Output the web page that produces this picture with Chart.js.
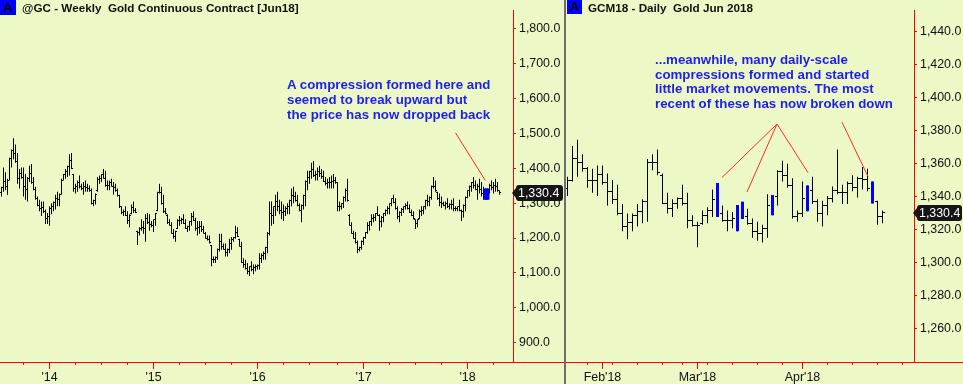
<!DOCTYPE html>
<html>
<head>
<meta charset="utf-8">
<script src="https://cdn.jsdelivr.net/npm/chart.js@4.4.1/dist/chart.umd.min.js"></script>
<style>
  html, body { margin: 0; padding: 0; background: #ecf8c5; }
  #wrap { position: relative; width: 963px; height: 384px; overflow: hidden; background: #ecf8c5;
          font-family: "Liberation Sans", Arial, sans-serif; }
  canvas { position: absolute; top: 0; }
  #cw { left: 0; }
  #cd { left: 566px; }
  #sep { position: absolute; left: 564px; top: 0; width: 2px; height: 384px; background: #6e6e6e; }
  .tag { position: absolute; top: 0; height: 15px; background: #0000ff; color: #000; font-weight: bold;
         font-size: 13px; line-height: 15px; text-align: center; }
  .title { position: absolute; top: 0; font-weight: bold; font-size: 11.7px; line-height: 15px; color: #111;
           white-space: pre; }
  .note { position: absolute; font-weight: bold; font-size: 13.3px; color: #1e1ef0; white-space: pre; }
</style>
</head>
<body>
<div id="wrap">
  <canvas id="cw" width="565" height="384"></canvas>
  <canvas id="cd" width="397" height="384"></canvas>
  <div id="sep"></div>
  <div class="tag" style="left:0;width:16px;">A</div>
  <div class="title" style="left:22px;">@GC - Weekly  Gold Continuous Contract [Jun18]</div>
  <div class="tag" style="left:567px;width:15px;height:14px;line-height:14px;">A</div>
  <div class="title" style="left:588px;">GCM18 - Daily  Gold Jun 2018</div>
  <div class="note" style="left:287px;top:77px;line-height:15px;">A compression formed here and
seemed to break upward but
the price has now dropped back</div>
  <div class="note" style="left:655px;top:53px;line-height:14.7px;">...meanwhile, many daily-scale
compressions formed and started
little market movements. The most
recent of these has now broken down</div>
</div>
<script>
// ---------------- Weekly gold continuous contract (one bar per week, Jul 2013 - Apr 2018) -------------
const weeklyHigh = [
1347,1402,1389,1370,1430,1454,1486,1468,1444,1398,
1402,1402,1384,1375,1407,1412,1375,1347,1319,1310,
1305,1305,1282,1272,1291,1300,1305,1324,1333,1328,
1370,1384,1398,1407,1440,1444,1384,1356,1365,1379,
1356,1361,1365,1356,1351,1342,1310,1328,1375,1379,
1384,1398,1393,1365,1365,1370,1361,1356,1342,1324,
1291,1282,1291,1277,1268,1296,1305,1286,1221,1231,
1254,1249,1268,1272,1268,1249,1254,1272,1333,1356,
1347,1324,1286,1268,1254,1245,1226,1221,1254,1263,
1258,1268,1254,1235,1249,1272,1277,1258,1249,1249,
1249,1235,1217,1207,1207,1180,1147,1147,1170,1212,
1212,1184,1184,1170,1198,1203,1203,1235,1231,1198,
1189,1142,1138,1128,1119,1133,1124,1124,1124,1156,
1156,1161,1175,1217,1305,1305,1291,1324,1333,1310,
1305,1296,1291,1300,1310,1342,1347,1333,1324,1300,
1296,1324,1365,1393,1393,1416,1421,1393,1402,1407,
1398,1393,1375,1370,1375,1379,1384,1375,1361,1305,
1300,1319,1342,1370,1268,1245,1221,1217,1193,1175,
1193,1203,1217,1245,1249,1268,1268,1272,1291,1268,
1263,1272,1282,1291,1300,1314,1324,1314,1291,1277,
1286,1291,1300,1305,1296,1282,1277,1254,1254,1282,
1291,1291,1310,1324,1319,1351,1375,1365,1333,1328,
1319,1305,1305,1314,1300,1310,1314,1291,1291,1310,
1282,1296,1319,1337,1351,1361,1375,1365,1356,1370,
1361,1347,1342,1342,1356,1365,1361,1370,1361,1337];
const weeklyLow = [
1319,1333,1337,1324,1365,1402,1426,1416,1356,1342,
1370,1319,1310,1305,1361,1356,1337,1310,1291,1277,
1263,1272,1240,1240,1235,1268,1277,1282,1291,1291,
1324,1365,1370,1375,1379,1398,1333,1328,1333,1342,
1337,1324,1333,1333,1333,1296,1291,1296,1333,1356,
1361,1370,1347,1337,1337,1347,1324,1333,1319,1286,
1268,1263,1263,1240,1231,1268,1272,1272,1180,1207,
1221,1212,1189,1240,1221,1231,1217,1235,1277,1328,
1296,1272,1268,1240,1235,1212,1198,1189,1226,1235,
1240,1240,1226,1217,1221,1235,1249,1221,1207,1212,
1217,1212,1198,1193,1184,1119,1128,1128,1138,1161,
1166,1166,1147,1147,1156,1166,1189,1198,1203,1175,
1128,1115,1110,1096,1091,1105,1096,1105,1110,1110,
1128,1138,1138,1156,1207,1235,1240,1263,1277,1268,
1254,1249,1263,1268,1268,1291,1300,1305,1291,1277,
1245,1282,1291,1337,1356,1370,1375,1365,1365,1375,
1370,1361,1351,1342,1342,1342,1342,1356,1277,1277,
1282,1286,1305,1305,1235,1212,1198,1184,1156,1161,
1166,1180,1198,1212,1221,1235,1245,1249,1263,1221,
1231,1245,1263,1268,1268,1291,1300,1282,1254,1245,
1263,1272,1282,1282,1272,1263,1254,1226,1231,1254,
1263,1268,1282,1291,1291,1310,1342,1333,1310,1291,
1286,1291,1282,1286,1282,1282,1277,1277,1277,1277,
1249,1259,1277,1314,1319,1333,1342,1337,1310,1328,
1319,1310,1310,1310,1328,1337,1328,1333,1333,1324];
const weeklyOpen = [
1330,1344,1363,1347,1366,1428,1450,1442,1420,1370,
1386,1374,1347,1340,1372,1384,1358,1340,1312,1294,
1284,1288,1275,1256,1263,1284,1291,1303,1312,1310,
1325,1366,1382,1391,1404,1421,1382,1342,1349,1360,
1347,1342,1349,1344,1342,1335,1300,1308,1335,1367,
1372,1382,1372,1351,1351,1358,1349,1344,1335,1321,
1289,1272,1277,1266,1250,1270,1288,1279,1220,1215,
1228,1231,1228,1256,1245,1240,1236,1252,1280,1330,
1331,1298,1277,1266,1245,1237,1214,1205,1228,1249,
1249,1254,1242,1228,1233,1248,1263,1251,1228,1230,
1233,1224,1214,1200,1196,1178,1138,1137,1145,1168,
1189,1175,1168,1158,1168,1184,1196,1201,1217,1196,
1177,1130,1124,1112,1105,1117,1110,1114,1117,1122,
1142,1149,1156,1173,1214,1270,1265,1289,1305,1289,
1280,1272,1277,1284,1289,1308,1323,1319,1308,1293,
1279,1294,1322,1363,1374,1390,1398,1379,1383,1391,
1384,1377,1363,1356,1358,1360,1363,1365,1358,1291,
1291,1298,1317,1337,1266,1237,1214,1200,1186,1168,
1173,1191,1201,1215,1235,1247,1256,1260,1270,1265,
1247,1258,1270,1279,1284,1298,1312,1302,1284,1261,
1274,1281,1289,1293,1284,1274,1265,1252,1242,1256,
1277,1279,1289,1307,1305,1317,1349,1349,1331,1312,
1302,1298,1293,1300,1291,1296,1295,1284,1284,1289,
1279,1277,1294,1317,1335,1347,1358,1351,1339,1349,
1340,1328,1326,1326,1340,1351,1344,1351,1347,1335];
const weeklyClose = [
1344,1363,1347,1366,1428,1450,1442,1420,1370,1386,
1374,1347,1340,1372,1384,1358,1340,1312,1294,1284,
1288,1275,1256,1263,1284,1291,1303,1312,1310,1325,
1366,1382,1391,1404,1421,1400,1342,1349,1360,1347,
1342,1349,1344,1342,1335,1300,1308,1325,1367,1372,
1382,1372,1351,1351,1358,1349,1344,1335,1321,1289,
1272,1277,1266,1250,1265,1288,1279,1274,1215,1228,
1231,1228,1256,1245,1240,1236,1252,1270,1330,1331,
1298,1277,1270,1245,1237,1214,1205,1218,1249,1249,
1254,1242,1228,1233,1248,1263,1251,1228,1230,1233,
1224,1214,1200,1196,1186,1138,1137,1145,1168,1189,
1175,1168,1158,1168,1184,1196,1201,1217,1205,1177,
1130,1124,1112,1105,1117,1110,1114,1117,1122,1142,
1149,1156,1173,1214,1270,1265,1289,1305,1289,1280,
1272,1277,1284,1289,1308,1323,1319,1308,1293,1279,
1294,1322,1363,1374,1390,1398,1379,1383,1391,1384,
1377,1363,1356,1358,1360,1363,1365,1358,1291,1291,
1298,1317,1337,1307,1237,1214,1200,1186,1168,1173,
1191,1201,1215,1235,1247,1256,1260,1270,1265,1247,
1258,1270,1279,1284,1298,1312,1302,1284,1261,1274,
1281,1289,1293,1284,1274,1265,1256,1242,1252,1277,
1279,1289,1307,1305,1317,1349,1349,1335,1312,1302,
1298,1293,1300,1291,1296,1295,1284,1284,1289,1279,
1277,1294,1317,1335,1347,1358,1351,1339,1349,1340,
1328,1326,1326,1340,1351,1344,1351,1347,1335,1330.4];
const weeklyCompression = [242, 243];            // bar indices highlighted blue
const weeklyYearTicks = [24, 76, 128, 181, 233]; // first weekly bar of each year
const weeklyYearLabels = ["'14", "'15", "'16", "'17", "'18"];
const weeklyQuarterTicks = [11, 37, 50, 63, 89, 102, 115, 141, 154, 168, 194, 207, 220, 246];
const weeklyPriceTicks = [900, 1000, 1100, 1200, 1300, 1400, 1500, 1600, 1700, 1800];
const weeklyArrows = [[227, 1501.8, 241.9, 1365.3]];   // [fromBar, fromPrice, toBar, toPrice]

// ---------------- Daily Gold Jun 2018 (Jan 23 - Apr 24, 2018) -------------
const dailyHigh = [
1352.3,1370.8,1374.7,1365.9,1358.1,1357.1,1359.1,1359.1,1354.2,1350.3,
1347.4,1335.7,1329.9,1329.9,1335.7,1338.6,1363.0,1365.9,1368.8,1354.2,
1342.5,1338.6,1339.6,1347.4,1342.5,1328.9,1325.0,1331.8,1333.8,1344.5,
1348.4,1334.8,1331.8,1330.9,1335.1,1337.1,1332.8,1327.0,1325.0,1323.1,
1341.6,1341.2,1356.2,1362.0,1360.1,1351.3,1331.8,1349.4,1347.0,1352.3,
1338.6,1337.7,1340.6,1346.4,1368.8,1347.4,1349.4,1353.2,1352.3,1358.1,
1357.1,1349.4,1337.7,1331.8];
const dailyLow = [
1340.6,1349.4,1352.3,1355.2,1345.5,1342.5,1340.6,1347.4,1334.8,1335.7,
1328.9,1319.2,1314.3,1319.2,1322.1,1324.1,1325.0,1356.2,1353.2,1335.7,
1329.9,1327.9,1332.8,1334.8,1321.1,1322.1,1309.5,1323.1,1324.1,1327.9,
1327.9,1325.0,1319.2,1321.1,1319.2,1326.6,1323.1,1315.3,1313.4,1312.4,
1315.3,1328.9,1334.8,1349.4,1345.5,1327.0,1325.0,1327.9,1331.3,1335.7,
1325.0,1322.1,1328.9,1336.7,1341.6,1335.7,1335.7,1343.5,1339.6,1344.5,
1343.5,1336.1,1323.1,1324.1];
const dailyOpen = [
1345,1350,1363.5,1360.6,1357,1349.8,1349.9,1353.3,1349,1343,
1338.2,1330,1322,1324.6,1328.9,1331.4,1337,1361,1361,1353,
1336.2,1333.3,1336.2,1339,1336,1325.5,1323,1324,1329,1332,
1338.2,1329.9,1325.5,1326,1327.2,1331.9,1328,1324,1319.2,1317.8,
1321,1335,1340,1355.7,1352.8,1347,1328.4,1330,1339.2,1344,
1337,1329.9,1334.8,1339,1344,1342.5,1342.6,1348.4,1346,1351.3,
1350.3,1345,1337,1328];
const dailyClose = [
1350,1363.5,1360.6,1357,1349.8,1349.9,1353.3,1349,1343,1338.2,
1330,1322,1324.6,1328.9,1331.4,1337,1361,1361,1355,1336.2,
1333.3,1336.2,1339,1336,1325.5,1323,1323,1329,1332,1338.2,
1329.9,1325.5,1326,1327.2,1331.9,1328,1324,1319.2,1317.8,1321,
1335,1340,1355.7,1352.8,1347,1328.4,1330,1339.2,1344,1337,
1329.9,1334.8,1339,1344,1342.5,1342.6,1348.4,1346,1351.3,1350.3,
1345,1337,1328,1330.4];
const dailyCompression = [30, 34, 35, 41, 48, 61];
const dailyMonthTicks = [7, 26, 47];
const dailyMonthLabels = ["Feb'18", "Mar'18", "Apr'18"];
const dailyWeekTicks = [4, 9, 14, 19, 23, 28, 33, 38, 43, 52, 57, 62, 67];
const dailyPriceTicks = [1260, 1280, 1300, 1320, 1340, 1360, 1380, 1400, 1420, 1440];
const dailyArrows = [
  [41.9, 1384.2, 30.9, 1351.8],
  [41.9, 1384.2, 35.9, 1343.0],
  [41.9, 1384.2, 48.1, 1354.7],
  [54.9, 1385.3, 60.1, 1352.4]];

// ---------------- drawing -------------
const RED = '#ff0000';
const FONT = '"Liberation Sans", Arial, sans-serif';

function fmtPrice(v) {
  const s = Number(v).toFixed(1);
  const parts = s.split('.');
  return parts[0].replace(/\B(?=(\d{3})+(?!\d))/g, ',') + '.' + parts[1];
}

function buildChart(canvas, d) {
  const ohlcPlugin = {
    id: 'ohlcTicks',
    afterDatasetsDraw(chart) {
      const { ctx, scales: { x, y } } = chart;
      ctx.save();
      ctx.fillStyle = '#000';
      for (let i = 0; i < d.open.length; i++) {
        if (d.comp.includes(i)) continue;
        const cx = Math.floor(x.getPixelForValue(i));
        ctx.fillRect(cx - d.tickLen, Math.floor(y.getPixelForValue(d.open[i])), d.tickLen, 1);
        ctx.fillRect(cx + 1, Math.floor(y.getPixelForValue(d.close[i])), d.tickLen, 1);
      }
      ctx.restore();
    }
  };
  const extrasPlugin = {
    id: 'extras',
    afterDraw(chart) {
      const { ctx, chartArea: a, scales: { x, y } } = chart;
      ctx.save();
      // long ticks for major date marks
      ctx.fillStyle = RED;
      d.xMajor.forEach(v => ctx.fillRect(Math.floor(x.getPixelForValue(v)), a.bottom, 1, 7));
      // bottom axis line continues under the price labels
      ctx.fillRect(a.right, a.bottom, chart.width - a.right, 1);
      // annotation arrows (in data coordinates)
      ctx.strokeStyle = '#ff2a2a';
      ctx.lineWidth = 1;
      d.arrows.forEach(r => {
        ctx.beginPath();
        ctx.moveTo(x.getPixelForValue(r[0]), y.getPixelForValue(r[1]));
        ctx.lineTo(x.getPixelForValue(r[2]), y.getPixelForValue(r[3]));
        ctx.stroke();
      });
      // last price marker
      const last = d.close[d.close.length - 1];
      const py = Math.round(y.getPixelForValue(last));
      const tip = a.right - 1, bx = a.right + 3, ex = d.boxRight, h = 8, r = 3;
      ctx.fillStyle = '#151515';
      ctx.beginPath();
      ctx.moveTo(tip, py);
      ctx.lineTo(bx, py - 5);
      ctx.lineTo(bx, py - h + r);
      ctx.quadraticCurveTo(bx, py - h, bx + r, py - h);
      ctx.lineTo(ex - r, py - h);
      ctx.quadraticCurveTo(ex, py - h, ex, py - h + r);
      ctx.lineTo(ex, py + h - r);
      ctx.quadraticCurveTo(ex, py + h, ex - r, py + h);
      ctx.lineTo(bx + r, py + h);
      ctx.quadraticCurveTo(bx, py + h, bx, py + h - r);
      ctx.lineTo(bx, py + 5);
      ctx.closePath();
      ctx.fill();
      ctx.fillStyle = '#ffffff';
      ctx.font = '12.4px ' + FONT;
      ctx.textBaseline = 'middle';
      ctx.textAlign = 'left';
      ctx.fillText(fmtPrice(last), bx + 2, py + 0.5);
      ctx.restore();
    }
  };

  const labelFor = {};
  d.xMajor.forEach((v, i) => { labelFor[v] = d.xMajorLabels[i]; });
  const xTickValues = d.xMajor.concat(d.xMinor).sort((p, q) => p - q);

  return new Chart(canvas, {
    type: 'bar',
    data: {
      datasets: [
        {
          label: 'compression',
          data: d.comp.map(i => ({ x: i, y: [d.low[i], d.high[i]] })),
          backgroundColor: '#0000ff',
          barThickness: d.compW,
          inflateAmount: 0,
          borderWidth: 0,
          grouped: false,
          order: 0
        },
        {
          label: 'range',
          data: d.high.map((hv, i) => ({ x: i, y: [d.low[i], hv] })),
          backgroundColor: '#000000',
          barThickness: 1,
          inflateAmount: 0,
          borderWidth: 0,
          grouped: false,
          order: 1
        }
      ]
    },
    options: {
      responsive: false,
      animation: false,
      events: [],
      layout: { padding: 0 },
      plugins: { legend: { display: false }, tooltip: { enabled: false }, title: { display: false } },
      scales: {
        x: {
          type: 'linear',
          min: d.xMin, max: d.xMax,
          offset: false,
          afterFit(s) { s.height = 22; },
          afterBuildTicks(s) { s.ticks = xTickValues.map(v => ({ value: v })); },
          ticks: {
            autoSkip: false, maxRotation: 0, minRotation: 0, padding: 5,
            color: '#111', font: { family: FONT, size: 12.4 },
            callback: v => (labelFor[v] !== undefined ? labelFor[v] : '')
          },
          grid: { offset: false, drawOnChartArea: false, drawTicks: true, tickLength: 3, tickColor: RED },
          border: { display: true, color: RED, width: 1 }
        },
        y: {
          type: 'linear',
          position: 'right',
          min: d.yMin, max: d.yMax,
          afterFit(s) { s.width = d.yAxisW; },
          afterBuildTicks(s) { s.ticks = d.yTicks.map(v => ({ value: v })); },
          ticks: {
            padding: 3, color: '#111', font: { family: FONT, size: 12.4 },
            callback: v => fmtPrice(v)
          },
          grid: { drawOnChartArea: false, drawTicks: true, tickLength: 3, tickColor: RED },
          border: { display: true, color: RED, width: 1 }
        }
      }
    },
    plugins: [ohlcPlugin, extrasPlugin]
  });
}

buildChart(document.getElementById('cw'), {
  high: weeklyHigh, low: weeklyLow, open: weeklyOpen, close: weeklyClose,
  comp: weeklyCompression, compW: 4, tickLen: 1,
  xMin: -0.75, xMax: 255.75, yMin: 844.3, yMax: 1852.9,
  yTicks: weeklyPriceTicks, xMajor: weeklyYearTicks, xMajorLabels: weeklyYearLabels,
  xMinor: weeklyQuarterTicks, yAxisW: 52, boxRight: 563, arrows: weeklyArrows
});

buildChart(document.getElementById('cd'), {
  high: dailyHigh, low: dailyLow, open: dailyOpen, close: dailyClose,
  comp: dailyCompression, compW: 3, tickLen: 2,
  xMin: -0.3, xMax: 69.3, yMin: 1240, yMax: 1453,
  yTicks: dailyPriceTicks, xMajor: dailyMonthTicks, xMajorLabels: dailyMonthLabels,
  xMinor: dailyWeekTicks, yAxisW: 49, boxRight: 396, arrows: dailyArrows
});
</script>
</body>
</html>
